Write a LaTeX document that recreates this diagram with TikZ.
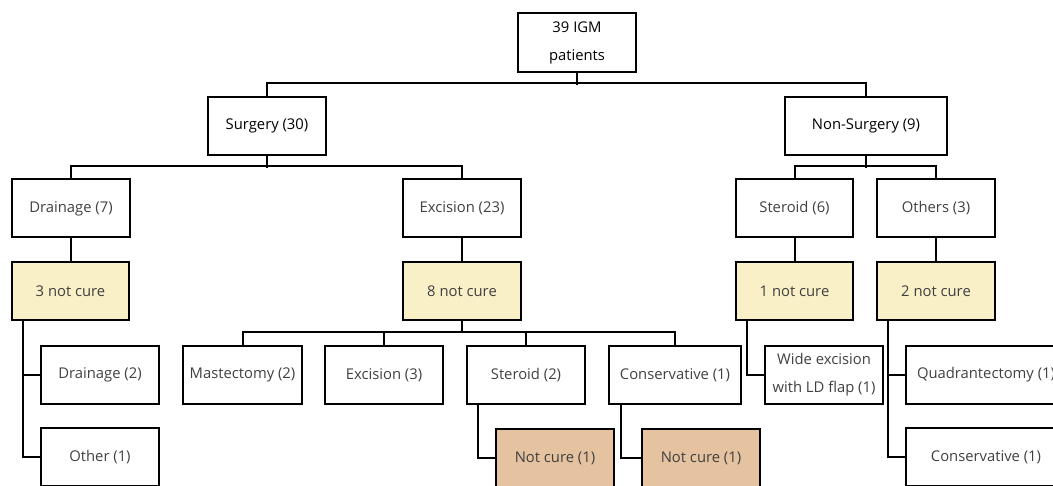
\documentclass[tikz,border=0pt]{standalone}
\usepackage{fontspec}
\setmainfont{Open Sans}
\begin{document}
\begin{tikzpicture}[x=1pt,y=-1pt,
  box/.style={draw=black, line width=2pt, rectangle, minimum width=118pt, minimum height=58pt, inner sep=1pt, font=\fontsize{14.8}{17}\selectfont, text=black!75},
  headbox/.style={box, text=black},
  ycure/.style={box, fill=yellowfill},
  tcure/.style={box, fill=tanfill},
  conn/.style={draw=black, line width=2pt}
]
\definecolor{yellowfill}{HTML}{FAF0C8}
\definecolor{tanfill}{HTML}{E5C3A0}
\useasboundingbox (0,0) rectangle (1053,486);
\clip (0,0) rectangle (1053,486);

\node[headbox, minimum height=59pt, align=center, font=\fontsize{14.8}{28}\selectfont] (top) at (577,42.5) {39 IGM\\patients};
\node[headbox] (surg) at (267,126) {Surgery (30)};
\node[headbox, minimum width=162pt] (nons) at (866,126) {Non-Surgery (9)};

\node[box] (drain7) at (71,208.5) {Drainage (7)};
\node[box] (exc23) at (462,208.5) {Excision (23)};
\node[box, minimum width=117pt] (ster6) at (794.5,208.5) {Steroid (6)};
\node[box] (oth3) at (936,208.5) {Others (3)};

\node[ycure, minimum width=117pt] (nc3) at (70.5,291.5) {3 not cure};
\node[ycure] (nc8) at (462,291.5) {8 not cure};
\node[ycure, minimum width=117pt] (nc1) at (794.5,291.5) {1 not cure};
\node[ycure] (nc2) at (936,291.5) {2 not cure};

\node[box] (drain2) at (100,375) {Drainage (2)};
\node[box] (other1) at (100,457) {Other (1)};
\node[box, minimum width=119pt] (mast) at (242.5,375) {Mastectomy (2)};
\node[box] (exc3) at (384,375) {Excision (3)};
\node[box] (ster2) at (526,375) {Steroid (2)};
\node[box, minimum width=132pt] (cons1) at (675,375) {Conservative (1)};
\node[box, align=center, font=\fontsize{14.8}{28}\selectfont] (wide) at (824,375) {Wide excision\\with LD flap (1)};
\node[box, minimum width=160pt] (quad) at (986,375) {Quadrantectomy (1)};
\node[box, minimum width=160pt] (cons2) at (986,457) {Conservative (1)};

\node[tcure] (ncA) at (555,458) {Not cure (1)};
\node[tcure] (ncB) at (701,458) {Not cure (1)};

% level 1
\draw[conn] (top.south) -- ++(0,12);
\draw[conn] (surg.north) -- ++(0,-13) -| (nons.north);
% surgery
\draw[conn] (surg.south) -- ++(0,12);
\draw[conn] (drain7.north) -- ++(0,-12) -| (exc23.north);
% non-surgery
\draw[conn] (nons.south) -- ++(0,12);
\draw[conn] (ster6.north) -- ++(0,-12) -| (oth3.north);
% to not cure
\draw[conn] (drain7.south) -- (drain7.south |- nc3.north);
\draw[conn] (exc23.south) -- (exc23.south |- nc8.north);
\draw[conn] (ster6.south) -- (ster6.south |- nc1.north);
\draw[conn] (oth3.south) -- (oth3.south |- nc2.north);
% drainage branch
\draw[conn] ([xshift=12pt]nc3.south west) |- (drain2.west);
\draw[conn] ([xshift=12pt]nc3.south west) |- (other1.west);
% excision branch
\draw[conn] (nc8.south) -- ++(0,11);
\draw[conn] (mast.north) -- ++(0,-13) -| (cons1.north);
\draw[conn] (exc3.north) -- ++(0,-13);
\draw[conn] (ster2.north) -- ++(0,-13);
\draw[conn] ([xshift=12pt]ster2.south west) |- (ncA.west);
\draw[conn] ([xshift=13pt]cons1.south west) |- (ncB.west);
% steroid / others branch
\draw[conn] ([xshift=12pt]nc1.south west) |- (wide.west);
\draw[conn] ([xshift=12pt]nc2.south west) |- (quad.west);
\draw[conn] ([xshift=12pt]nc2.south west) |- (cons2.west);
\end{tikzpicture}
\end{document}
